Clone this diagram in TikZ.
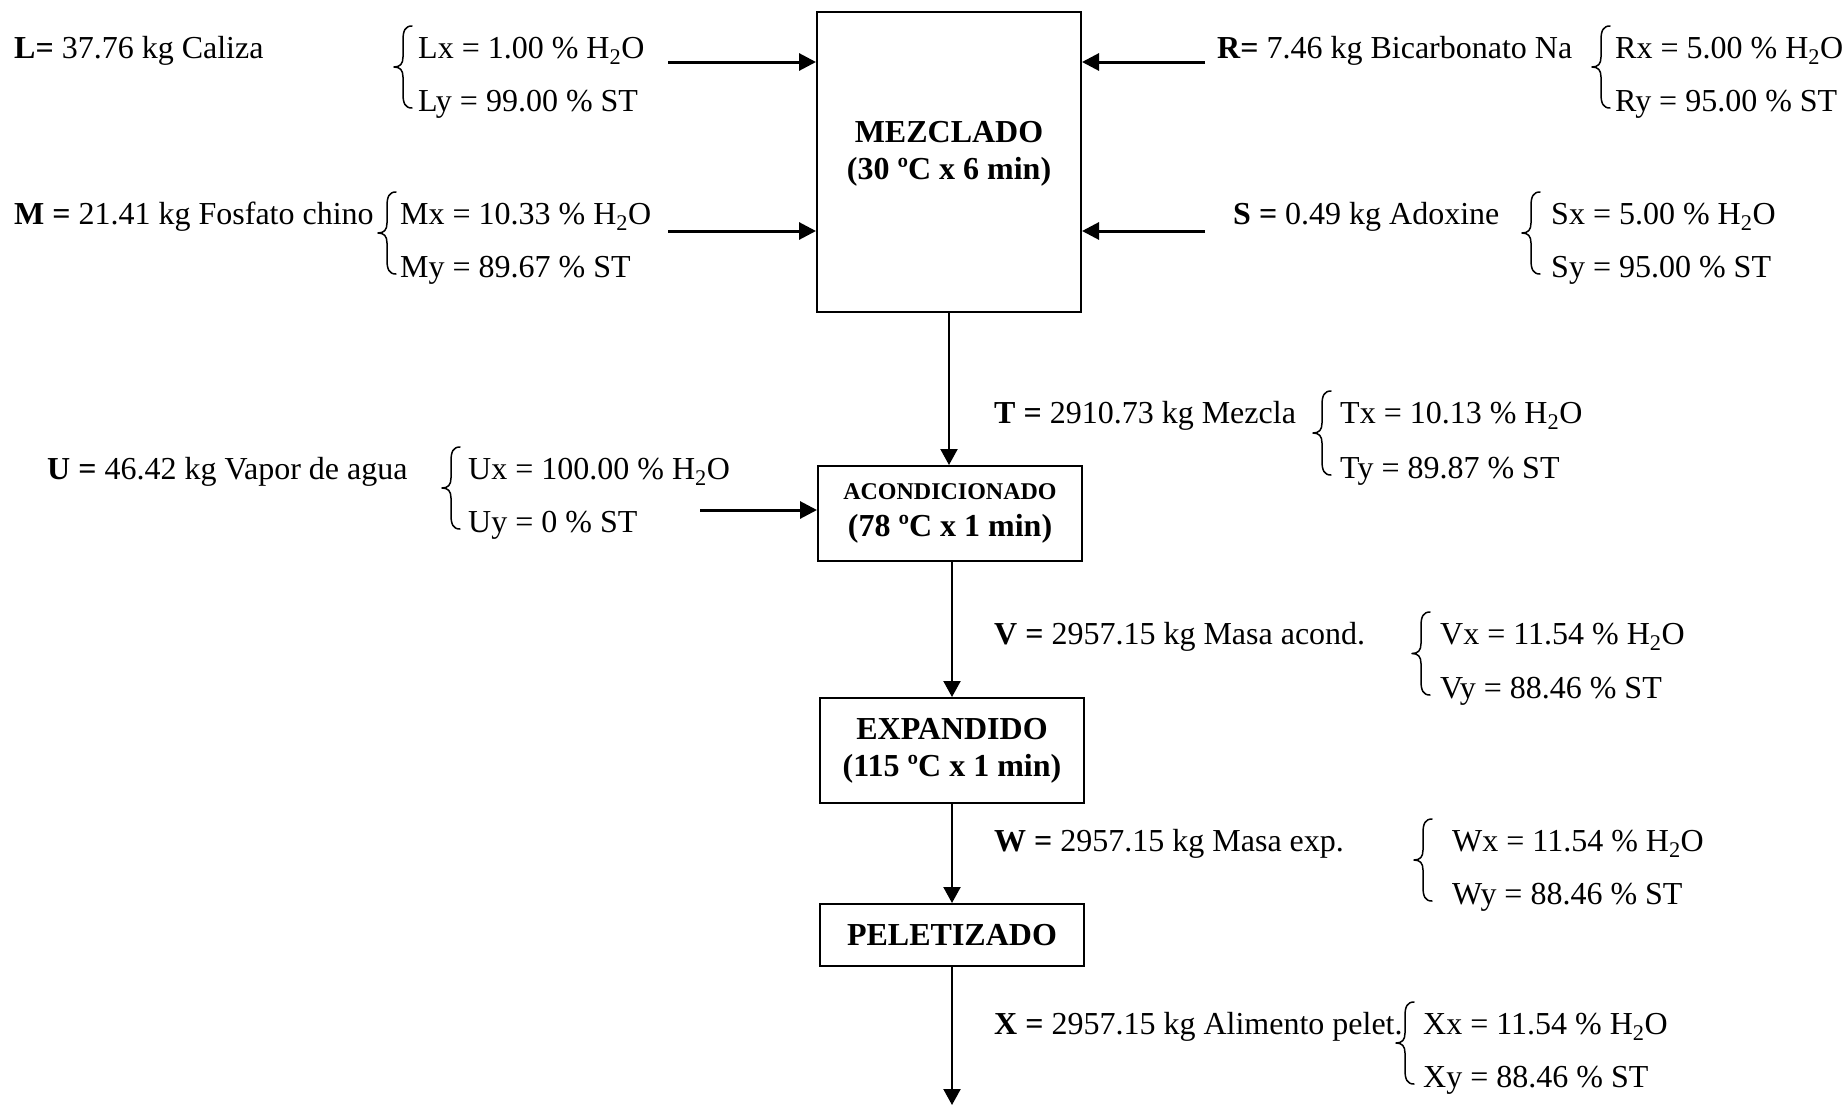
\documentclass[tikz,border=0pt]{standalone}
\usepackage{fontspec}
\setmainfont{Liberation Serif}
\usetikzlibrary{arrows.meta}

% curly brace: #1 = x of the hook ends, #2 = top y, #3 = bottom y
\newcommand\cbrace[3]{%
  \pgfmathsetmacro\bxv{#1-9}%
  \pgfmathsetmacro\bxt{#1-18}%
  \pgfmathsetmacro\bym{(#2+#3)/2}%
  \draw[brc] (#1,#2) .. controls (\bxv+2,#2) and (\bxv,#2+5) .. (\bxv,#2+14)
    -- (\bxv,\bym-10) .. controls (\bxv,\bym-3) and (\bxv-3,\bym) .. (\bxt,\bym)
    .. controls (\bxv-3,\bym) and (\bxv,\bym+3) .. (\bxv,\bym+10)
    -- (\bxv,#3-14) .. controls (\bxv,#3-5) and (\bxv+2,#3) .. (#1,#3);}

\begin{document}
\begin{tikzpicture}[x=1pt,y=-1pt,
  font=\fontsize{32}{37}\selectfont,
  lbl/.style={anchor=base west, inner sep=0pt},
  proc/.style={draw, line width=2pt, inner sep=0pt, align=center,
    font=\fontsize{32}{37}\selectfont\bfseries},
  feed/.style={-{Triangle[length=17pt,width=17pt]}, line width=3pt},
  flow/.style={-{Triangle[length=16pt,width=17pt]}, line width=2.2pt},
  brc/.style={line width=1.5pt, line cap=round, line join=round}]
\useasboundingbox (0,0) rectangle (1848,1106);

% process blocks
\node[proc, minimum width=264pt, minimum height=300pt] (mez) at (949,162)
  {\raisebox{8pt}[\height][\depth]{\begin{tabular}{@{}c@{}}MEZCLADO\\(30 ºC x 6 min)\end{tabular}}};
\node[proc, minimum width=264pt, minimum height=95pt] (acond) at (950,513.5)
  {{\fontsize{24}{26}\selectfont ACONDICIONADO}\\(78 ºC x 1 min)};
\node[proc, minimum width=264pt, minimum height=105pt] (exp) at (952,750.5)
  {EXPANDIDO\\(115 ºC x 1 min)};
\node[proc, minimum width=264pt, minimum height=62pt] (pel) at (952,935)
  {PELETIZADO};

% feeds into the mixer
\node[lbl] (Ln) at (14,58) {\textbf{L=} 37.76 kg Caliza};
\node[lbl] (Lx) at (418,58) {Lx = 1.00 \% H\textsubscript{2}O};
\node[lbl] (Ly) at (418,111) {Ly = 99.00 \% ST};
\cbrace{412}{26}{108}

\node[lbl] (Mn) at (14,224) {\textbf{M =} 21.41 kg Fosfato chino};
\node[lbl] (Mx) at (400,224) {Mx = 10.33 \% H\textsubscript{2}O};
\node[lbl] (My) at (400,277) {My = 89.67 \% ST};
\cbrace{396}{192}{274}

\node[lbl] (Rn) at (1217,58) {\textbf{R=} 7.46 kg Bicarbonato Na};
\node[lbl] (Rx) at (1615,58) {Rx = 5.00 \% H\textsubscript{2}O};
\node[lbl] (Ry) at (1615,111) {Ry = 95.00 \% ST};
\cbrace{1610}{26}{108}

\node[lbl] (Sn) at (1233,224) {\textbf{S =} 0.49 kg Adoxine};
\node[lbl] (Sx) at (1551,224) {Sx = 5.00 \% H\textsubscript{2}O};
\node[lbl] (Sy) at (1551,277) {Sy = 95.00 \% ST};
\cbrace{1540}{192}{274}

\coordinate (Lin) at (668,62);
\coordinate (Min) at (668,231);
\coordinate (Rin) at (1205,62);
\coordinate (Sin) at (1205,231);
\draw[feed] (Lin) -- (Lin -| mez.west);
\draw[feed] (Min) -- (Min -| mez.west);
\draw[feed] (Rin) -- (Rin -| mez.east);
\draw[feed] (Sin) -- (Sin -| mez.east);

% mixture to conditioning
\node[lbl] (Tn) at (994,423) {\textbf{T =} 2910.73 kg Mezcla};
\node[lbl] (Tx) at (1340,423) {Tx = 10.13 \% H\textsubscript{2}O};
\node[lbl] (Ty) at (1340,478) {Ty = 89.87 \% ST};
\cbrace{1331}{391}{475}
\draw[flow] (mez.south) -- (mez.south |- acond.north);

% steam
\node[lbl] (Un) at (47,479) {\textbf{U =} 46.42 kg Vapor de agua};
\node[lbl] (Ux) at (468,479) {Ux = 100.00 \% H\textsubscript{2}O};
\node[lbl] (Uy) at (468,532) {Uy = 0 \% ST};
\cbrace{460}{447}{529}
\coordinate (Uin) at (700,510);
\draw[feed] (Uin) -- (Uin -| acond.west);

% conditioned mass to expander
\node[lbl] (Vn) at (994,644) {\textbf{V =} 2957.15 kg Masa acond.};
\node[lbl] (Vx) at (1440,644) {Vx = 11.54 \% H\textsubscript{2}O};
\node[lbl] (Vy) at (1440,698) {Vy = 88.46 \% ST};
\cbrace{1430}{612}{695}
\draw[flow] (exp.north |- acond.south) -- (exp.north);

% expanded mass to pelleting
\node[lbl] (Wn) at (994,851) {\textbf{W =} 2957.15 kg Masa exp.};
\node[lbl] (Wx) at (1452,851) {Wx = 11.54 \% H\textsubscript{2}O};
\node[lbl] (Wy) at (1452,904) {Wy = 88.46 \% ST};
\cbrace{1432}{819}{901}
\draw[flow] (exp.south) -- (pel.north);

% pelleted feed out
\node[lbl] (Xn) at (994,1034) {\textbf{X =} 2957.15 kg Alimento pelet.};
\node[lbl] (Xx) at (1423,1034) {Xx = 11.54 \% H\textsubscript{2}O};
\node[lbl] (Xy) at (1423,1087) {Xy = 88.46 \% ST};
\cbrace{1414}{1002}{1084}
\coordinate (Xout) at (952,1105);
\draw[flow] (pel.south) -- (Xout);
\end{tikzpicture}
\end{document}
